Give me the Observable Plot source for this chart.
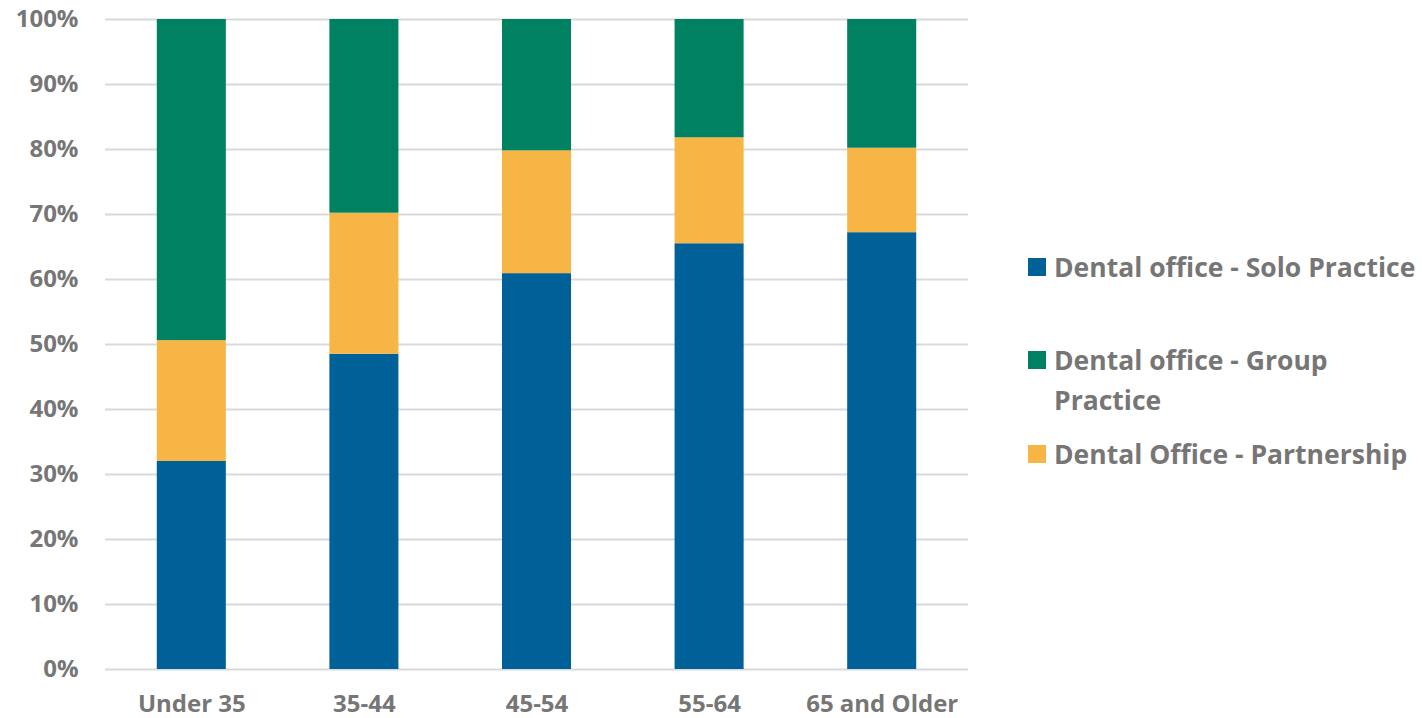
<!DOCTYPE html>
<html>
<head>
<meta charset="utf-8">
<script src="https://cdn.jsdelivr.net/npm/d3@7"></script>
<script src="https://cdn.jsdelivr.net/npm/@observablehq/plot@0.6"></script>
<style>
  html, body { margin: 0; padding: 0; background: #fff; }
  #wrap { position: relative; width: 1422px; height: 718px; font-family: "Open Sans", sans-serif; }
  #legend { position: absolute; left: 1028px; top: 247px; color: #767676; font-weight: 700; font-size: 26.5px; }
  .entry { display: flex; align-items: flex-start; line-height: 40px; }
  .sw { width: 18px; height: 18px; margin-top: 11px; margin-right: 8px; flex: none; }
  .lbl { width: 375px; white-space: normal; }
</style>
</head>
<body>
<div id="wrap"></div>
<script>
const ageGroups = ["Under 35", "35-44", "45-54", "55-64", "65 and Older"];
const seriesNames = ["Dental office - Solo Practice", "Dental Office - Partnership", "Dental office - Group Practice"];
const soloPractice = [32.0, 48.5, 60.9, 65.5, 67.2];
const partnership = [18.6, 21.7, 18.9, 16.3, 13.0];
const groupPractice = [49.4, 29.8, 20.2, 18.2, 19.8];
const seriesColors = ["#006098", "#F6B545", "#008262"];
const yTicks = [0, 10, 20, 30, 40, 50, 60, 70, 80, 90, 100];
const legendOrder = ["Dental office - Solo Practice", "Dental office - Group Practice", "Dental Office - Partnership"];

const seriesValues = [soloPractice, partnership, groupPractice];
const data = [];
seriesNames.forEach((s, si) => {
  ageGroups.forEach((g, gi) => data.push({group: g, series: s, value: seriesValues[si][gi]}));
});

const chart = Plot.plot({
  width: 1000,
  height: 718,
  marginLeft: 105,
  marginRight: 32,
  marginTop: 19,
  marginBottom: 49,
  style: {fontFamily: "Open Sans, sans-serif", fontSize: "24px", fontWeight: 700, color: "#767676", background: "#fff"},
  x: {domain: ageGroups, paddingInner: 0.6, paddingOuter: 0.3, align: 0.5, round: false, label: null},
  y: {domain: [0, 100], label: null},
  color: {domain: seriesNames, range: seriesColors},
  marks: [
    Plot.gridY(yTicks, {stroke: "#d9d9d9", strokeOpacity: 1, strokeWidth: 2}),
    Plot.barY(data, {x: "group", y: "value", fill: "series", order: seriesNames}),
    Plot.axisY(yTicks, {tickSize: 0, tickPadding: 27, tickFormat: d => d + "%", fill: "#767676", fontWeight: 700, fontSize: 24}),
    Plot.axisX({tickSize: 0, tickPadding: 25, fill: "#767676", fontWeight: 700, fontSize: 24})
  ]
});
const wrap = document.getElementById("wrap");
chart.style.position = "absolute";
chart.style.left = "0px";
chart.style.top = "0px";
wrap.appendChild(chart);

const legend = document.createElement("div");
legend.id = "legend";
const gaps = [53, 14, 0];
legendOrder.forEach((name, i) => {
  const e = document.createElement("div");
  e.className = "entry";
  e.style.marginBottom = gaps[i] + "px";
  const sw = document.createElement("div");
  sw.className = "sw";
  sw.style.background = seriesColors[seriesNames.indexOf(name)];
  const l = document.createElement("div");
  l.className = "lbl";
  l.textContent = name;
  e.appendChild(sw);
  e.appendChild(l);
  legend.appendChild(e);
});
wrap.appendChild(legend);
</script>
</body>
</html>
